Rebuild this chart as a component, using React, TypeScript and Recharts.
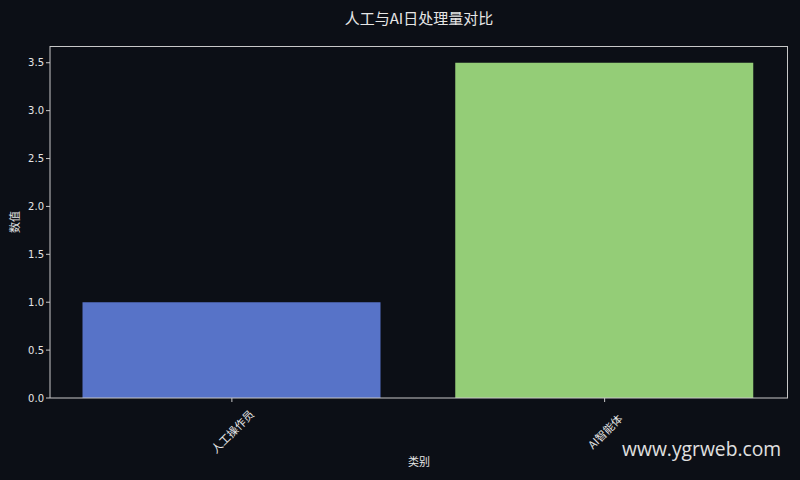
import React from 'react';
import { BarChart, Bar, XAxis, YAxis, Cell, Label } from 'recharts';

const categories = ['人工操作员', 'AI智能体'];
const values = [1.0, 3.5];
const barColors = ['#5773c8', '#94cd77'];
const yTicks = [0, 0.5, 1.0, 1.5, 2.0, 2.5, 3.0, 3.5];

const data = categories.map((c, i) => ({ name: c, value: values[i] }));

const BG = '#0c0f16';
const AXIS = '#c8c8c8';
const TXT = '#e6e6e6';
const CJK = '"Noto Sans CJK SC", "DejaVu Sans", sans-serif';
const NUM = '"DejaVu Sans", "Noto Sans CJK SC", sans-serif';

const XTick = (props: any) => {
  const { x, y, payload } = props;
  const cx = x;
  const cy = y + 27;
  return (
    <text
      x={cx}
      y={cy}
      transform={`rotate(-45, ${cx}, ${cy})`}
      textAnchor="middle"
      dominantBaseline="central"
      fill={TXT}
      fontSize={11}
      fontFamily={CJK}
    >
      {payload.value}
    </text>
  );
};

export default function App() {
  return (
    <div style={{ position: 'fixed', left: 0, top: 0, width: 800, height: 480, background: BG }}>
      <div
        style={{
          position: 'absolute',
          left: 38,
          width: 762,
          top: 7,
          textAlign: 'center',
          color: TXT,
          fontSize: 15,
          fontFamily: CJK,
          lineHeight: '22px',
        }}
      >
        人工与AI日处理量对比
      </div>
      <BarChart
        width={800}
        height={480}
        data={data}
        margin={{ top: 46, right: 12, bottom: 0, left: 0 }}
        barSize={298}
      >
        <XAxis
          dataKey="name"
          stroke={AXIS}
          tickSize={4}
          tickMargin={2}
          tick={<XTick />}
          interval={0}
          height={82}
          padding={{ left: -4.5, right: -3 }}
        >
          <Label value="类别" position="insideBottom" offset={14} fill={TXT} fontSize={11} fontFamily={CJK} />
        </XAxis>
        <YAxis
          domain={[0, 3.675]}
          ticks={yTicks}
          tickFormatter={(v: number) => v.toFixed(1)}
          stroke={AXIS}
          tickSize={4}
          tickMargin={2}
          width={50}
          tick={{ fill: TXT, fontSize: 10, fontFamily: NUM }}
          allowDataOverflow
        >
          <Label value="数值" angle={-90} position="insideLeft" offset={15} fill={TXT} fontSize={11} fontFamily={CJK} style={{ textAnchor: 'middle' }} />
        </YAxis>
        <Bar dataKey="value" isAnimationActive={false}>
          {data.map((d, i) => (
            <Cell key={d.name} fill={barColors[i]} />
          ))}
        </Bar>
      </BarChart>
      <div
        style={{
          position: 'absolute',
          left: 50,
          top: 46,
          width: 738,
          height: 352,
          boxSizing: 'border-box',
          borderTop: `1px solid ${AXIS}`,
          borderRight: `1px solid ${AXIS}`,
          pointerEvents: 'none',
        }}
      />
      <div
        style={{
          position: 'absolute',
          left: 622,
          top: 436,
          color: '#e0e0e0',
          fontSize: 19.3,
          fontFamily: '"Open Sans", "Noto Sans", sans-serif',
          lineHeight: '26px',
        }}
      >
        www.ygrweb.com
      </div>
    </div>
  );
}
